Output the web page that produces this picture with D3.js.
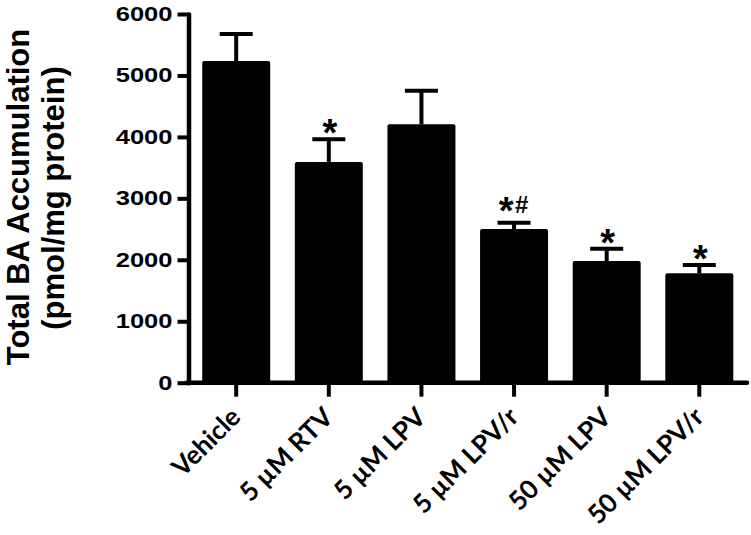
<!DOCTYPE html>
<html>
<head>
<meta charset="utf-8">
<script src="https://cdn.jsdelivr.net/npm/d3@7"></script>
<style>
  html, body { margin: 0; padding: 0; background: #fff; }
  svg { display: block; }
</style>
</head>
<body>
<script>
// ---- data ----
const categories = ["Vehicle", "5 µM RTV", "5 µM LPV", "5 µM LPV/r", "50 µM LPV", "50 µM LPV/r"];
const means = [5235, 3592, 4205, 2501, 1980, 1780];
const sems = [440, 370, 547, 103, 201, 135];
const marks = ["", "*", "", "*#", "*", "*"];
const yTicks = [0, 1000, 2000, 3000, 4000, 5000, 6000];
const yTitle1 = "Total BA Accumulation";
const yTitle2 = "(pmol/mg protein)";

const W = 751, H = 535;
const svg = d3.select("body").append("svg").attr("width", W).attr("height", H);

const axisX = 188.5, axisY = 382.7, topY = 14, rightX = 747;

const y = d3.scaleLinear().domain([0, 6000]).range([axisY, topY]);
const x = d3.scaleBand().domain(categories).range([axisX, rightX])
  .paddingInner(0.266).paddingOuter(0.148);

const rows = categories.map((c, i) => ({ c, m: means[i], e: sems[i], mk: marks[i] }));

// bars
svg.append("g").selectAll("rect").data(rows).join("rect")
  .attr("x", d => x(d.c))
  .attr("y", d => y(d.m))
  .attr("width", x.bandwidth())
  .attr("height", d => y(0) - y(d.m))
  .attr("rx", 2)
  .attr("fill", "#000");

// error bars (upward only)
const eb = svg.append("g").attr("stroke", "#000").attr("stroke-width", 4);
eb.selectAll("line.stem").data(rows).join("line").attr("class", "stem")
  .attr("x1", d => x(d.c) + x.bandwidth() / 2).attr("x2", d => x(d.c) + x.bandwidth() / 2)
  .attr("y1", d => y(d.m)).attr("y2", d => y(d.m + d.e));
eb.selectAll("line.cap").data(rows).join("line").attr("class", "cap")
  .attr("x1", d => x(d.c) + x.bandwidth() / 2 - 16.5).attr("x2", d => x(d.c) + x.bandwidth() / 2 + 16.5)
  .attr("y1", d => y(d.m + d.e)).attr("y2", d => y(d.m + d.e));

// significance marks
const mg = svg.append("g").attr("font-family", "'Liberation Sans', Arial, sans-serif").attr("font-weight", "bold").attr("fill", "#000");
rows.forEach(d => {
  if (!d.mk) return;
  const cx = x(d.c) + x.bandwidth() / 2;
  const cy = y(d.m + d.e);
  if (d.mk === "*") {
    mg.append("text").attr("x", cx + 1).attr("y", cy + 7).attr("text-anchor", "middle")
      .attr("font-size", 38).text("*");
  } else {
    mg.append("text").attr("x", cx - 8).attr("y", cy + 1.5).attr("text-anchor", "middle")
      .attr("font-size", 38).text("*");
    mg.append("text").attr("x", cx + 7.5).attr("y", cy - 9.5).attr("text-anchor", "middle")
      .attr("font-size", 24).text("#");
  }
});

// y axis
const gy = svg.append("g").attr("transform", `translate(${axisX},0)`)
  .call(d3.axisLeft(y).tickValues(yTicks).tickSize(11).tickSizeOuter(0).tickPadding(5).tickFormat(d3.format("d")));
gy.select(".domain").attr("stroke", "#000").attr("stroke-width", 4.5).attr("stroke-linecap", "round");
gy.selectAll(".tick line").attr("stroke", "#000").attr("stroke-width", 4);
gy.selectAll(".tick text")
  .attr("font-family", "'Liberation Sans', Arial, sans-serif")
  .attr("font-weight", "bold").attr("font-size", 20).attr("fill", "#000")
  .attr("textLength", d => String(d).length * 14.2)
  .attr("lengthAdjust", "spacingAndGlyphs");

// x axis
const gx = svg.append("g").attr("transform", `translate(0,${axisY})`)
  .call(d3.axisBottom(x).tickSize(14).tickSizeOuter(0).tickPadding(0));
gx.select(".domain").attr("stroke", "#000").attr("stroke-width", 4.5).attr("stroke-linecap", "round")
  .attr("d", `M${axisX - 2},0H${rightX}`);
gx.selectAll(".tick line").attr("stroke", "#000").attr("stroke-width", 4);
gx.selectAll(".tick text")
  .attr("font-family", "Lato, 'Open Sans', sans-serif")
  .attr("font-weight", "bold").attr("font-size", 26).attr("fill", "#000")
  .attr("text-anchor", "end")
  .attr("x", 0).attr("y", 0).attr("dy", 0)
  .attr("transform", "translate(6,36) rotate(-45)");

// y title
const tg = svg.append("g").attr("font-family", "'Liberation Sans', Arial, sans-serif")
  .attr("font-weight", "bold").attr("font-size", 31).attr("fill", "#000").attr("text-anchor", "middle");
tg.append("text").attr("transform", "translate(29,197) rotate(-90)").text(yTitle1);
tg.append("text").attr("transform", "translate(64,198) rotate(-90)").text(yTitle2);
</script>
</body>
</html>
